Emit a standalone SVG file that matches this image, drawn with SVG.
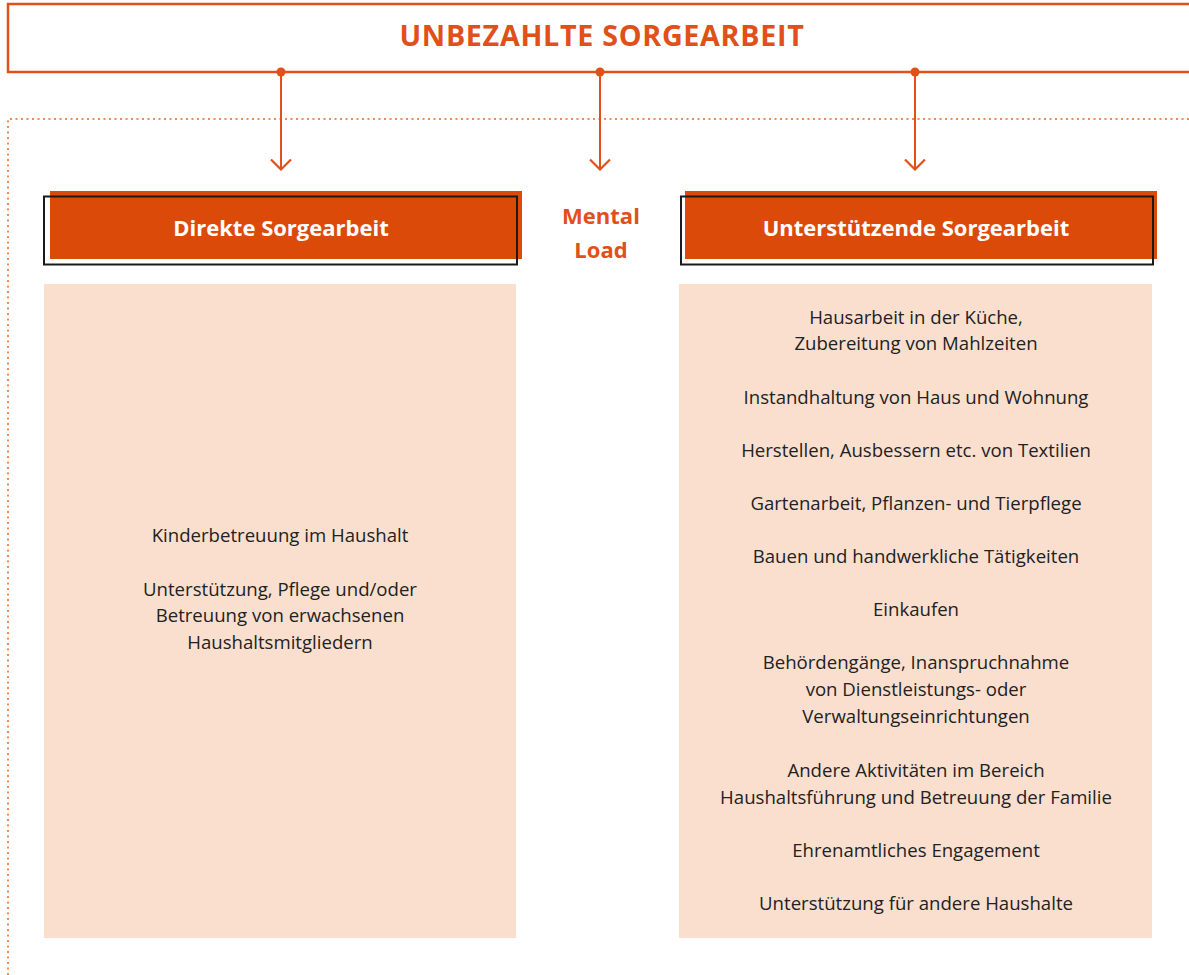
<svg xmlns="http://www.w3.org/2000/svg" width="1189" height="975" viewBox="0 0 1189 975">
<style>
.or{fill:#e0501a}
.hd{font-family:"Open Sans","Noto Sans",sans-serif;font-weight:700;fill:#ffffff;font-size:22px;text-anchor:middle}
.tx{font-family:"Open Sans","Noto Sans",sans-serif;fill:#222222;font-size:18.6px;text-anchor:middle}
.conn{stroke:#e0501a;stroke-width:2;fill:none}
</style>
<defs>
<marker id="ah" viewBox="0 0 12 22" refX="11" refY="11" markerWidth="12" markerHeight="22" markerUnits="userSpaceOnUse" orient="auto">
<path d="M0.5,1 L10.5,11 L0.5,21" fill="none" stroke="#e0501a" stroke-width="2.2"/>
</marker>
</defs>
<rect width="1189" height="975" fill="#ffffff"/>
<g id="frame">
<path d="M8,975 V119 H1189" fill="none" stroke="#f08a50" stroke-width="2" stroke-dasharray="2 3.5"/>
</g>
<g id="title">
<rect x="8" y="4" width="1190" height="68" fill="#ffffff" stroke="#e0501a" stroke-width="2.5"/>
<text x="602" y="46" font-family="'Open Sans','Noto Sans',sans-serif" font-weight="700" font-size="28.7" fill="#e0501a" text-anchor="middle" letter-spacing="0.7">UNBEZAHLTE SORGEARBEIT</text>
</g>
<g id="connectors">
<circle cx="281" cy="72" r="4.5" class="or"/>
<circle cx="600" cy="72" r="4.5" class="or"/>
<circle cx="915" cy="72" r="4.5" class="or"/>
<line x1="281" y1="72" x2="281" y2="170" class="conn" marker-end="url(#ah)"/>
<line x1="600" y1="72" x2="600" y2="170" class="conn" marker-end="url(#ah)"/>
<line x1="915" y1="72" x2="915" y2="170" class="conn" marker-end="url(#ah)"/>
</g>
<g id="direkte">
<rect x="50" y="191" width="472" height="68" fill="#dc4a0a"/>
<rect x="44" y="196.5" width="473" height="68" fill="none" stroke="#1a1a1a" stroke-width="2"/>
<text x="281" y="236" class="hd">Direkte Sorgearbeit</text>
</g>
<g id="mental">
<text x="601" y="224" class="hd" style="fill:#e0501a">Mental</text>
<text x="601" y="258" class="hd" style="fill:#e0501a">Load</text>
</g>
<g id="unterstuetzende">
<rect x="685" y="191" width="472" height="68" fill="#dc4a0a"/>
<rect x="681" y="196.5" width="472" height="68" fill="none" stroke="#1a1a1a" stroke-width="2"/>
<text x="916" y="236" class="hd">Unterstützende Sorgearbeit</text>
</g>
<g id="direkte-liste">
<rect x="44" y="284" width="472" height="654" fill="#fadfcf"/>
<text class="tx" x="280"><tspan x="280" y="542">Kinderbetreuung im Haushalt</tspan><tspan x="280" y="596">Unterstützung, Pflege und/oder</tspan><tspan x="280" y="622">Betreuung von erwachsenen</tspan><tspan x="280" y="649">Haushaltsmitgliedern</tspan></text>
</g>
<g id="unterstuetzende-liste">
<rect x="679" y="284" width="473" height="654" fill="#fadfcf"/>
<text class="tx" x="916"><tspan x="916" y="324">Hausarbeit in der Küche,</tspan><tspan x="916" y="350">Zubereitung von Mahlzeiten</tspan><tspan x="916" y="404">Instandhaltung von Haus und Wohnung</tspan><tspan x="916" y="457">Herstellen, Ausbessern etc. von Textilien</tspan><tspan x="916" y="510">Gartenarbeit, Pflanzen- und Tierpflege</tspan><tspan x="916" y="563">Bauen und handwerkliche Tätigkeiten</tspan><tspan x="916" y="616">Einkaufen</tspan><tspan x="916" y="669">Behördengänge, Inanspruchnahme</tspan><tspan x="916" y="696">von Dienstleistungs- oder</tspan><tspan x="916" y="723">Verwaltungseinrichtungen</tspan><tspan x="916" y="777">Andere Aktivitäten im Bereich</tspan><tspan x="916" y="804">Haushaltsführung und Betreuung der Familie</tspan><tspan x="916" y="857">Ehrenamtliches Engagement</tspan><tspan x="916" y="910">Unterstützung für andere Haushalte</tspan></text>
</g>
</svg>
